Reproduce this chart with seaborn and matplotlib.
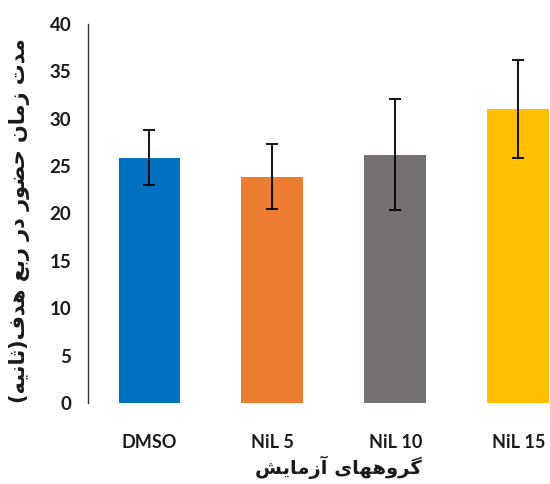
import matplotlib
matplotlib.use("Agg")
import matplotlib.pyplot as plt
import seaborn as sns
import pandas as pd

categories = ["DMSO", "NiL 5", "NiL 10", "NiL 15"]
means = [25.9, 23.9, 26.2, 31.0]
errors = [2.9, 3.4, 5.85, 5.15]
colors = ["#0070C0", "#ED7D31", "#767171", "#FFC000"]
y_ticks = [0, 5, 10, 15, 20, 25, 30, 35, 40]
y_label = "مدت زمان حضور در ربع هدف(ثانیه)"
x_label = "گروههای آزمایش"

# --- minimal Arabic/Persian shaping (isolated, final, initial, medial) ---
FORMS = {
    "ا": ("\uFE8D", "\uFE8E", None, None),
    "آ": ("\uFE81", "\uFE82", None, None),
    "ب": ("\uFE8F", "\uFE90", "\uFE91", "\uFE92"),
    "ت": ("\uFE95", "\uFE96", "\uFE97", "\uFE98"),
    "ث": ("\uFE99", "\uFE9A", "\uFE9B", "\uFE9C"),
    "ح": ("\uFEA1", "\uFEA2", "\uFEA3", "\uFEA4"),
    "د": ("\uFEA9", "\uFEAA", None, None),
    "ر": ("\uFEAD", "\uFEAE", None, None),
    "ز": ("\uFEAF", "\uFEB0", None, None),
    "ش": ("\uFEB5", "\uFEB6", "\uFEB7", "\uFEB8"),
    "ض": ("\uFEBD", "\uFEBE", "\uFEBF", "\uFEC0"),
    "ع": ("\uFEC9", "\uFECA", "\uFECB", "\uFECC"),
    "ف": ("\uFED1", "\uFED2", "\uFED3", "\uFED4"),
    "م": ("\uFEE1", "\uFEE2", "\uFEE3", "\uFEE4"),
    "ن": ("\uFEE5", "\uFEE6", "\uFEE7", "\uFEE8"),
    "ه": ("\uFEE9", "\uFEEA", "\uFEEB", "\uFEEC"),
    "و": ("\uFEED", "\uFEEE", None, None),
    "ی": ("\uFBFC", "\uFBFD", "\uFBFE", "\uFBFF"),
    "گ": ("\uFB92", "\uFB93", "\uFB94", "\uFB95"),
}


def shape_rtl(text):
    out = []
    n = len(text)
    for i, ch in enumerate(text):
        if ch not in FORMS:
            out.append(ch)
            continue
        f = FORMS[ch]
        prev = text[i - 1] if i > 0 else None
        nxt = text[i + 1] if i < n - 1 else None
        prev_join = prev in FORMS and FORMS[prev][2] is not None
        next_join = f[2] is not None and nxt in FORMS
        if prev_join and next_join:
            out.append(f[3])
        elif prev_join:
            out.append(f[1])
        elif next_join:
            out.append(f[2])
        else:
            out.append(f[0])
    s = "".join(out)[::-1]
    return s.translate(str.maketrans("()", ")("))


sns.set_theme(style="white")
plt.rcParams["font.family"] = ["Lato", "DejaVu Sans"]

df = pd.DataFrame({"group": categories, "value": means})

fig = plt.figure(figsize=(5.5, 4.84), dpi=100)
ax = fig.add_axes([0.16, 0.1674, 0.8945, 0.783])

sns.barplot(data=df, x="group", y="value", hue="group", palette=colors,
            order=categories, hue_order=categories, width=0.504,
            legend=False, ax=ax, saturation=1, edgecolor="none")
ax.errorbar(range(len(categories)), means, yerr=errors, fmt="none",
            ecolor="black", elinewidth=1.3, capsize=4.5, capthick=1.3)

ax.set_xlim(-0.5, 3.5)
ax.set_ylim(0, 40)
ax.set_yticks(y_ticks)
ax.set_yticklabels([str(t) for t in y_ticks], fontsize=13.5, fontweight="bold",
                   color="#1a1a1a")
ax.set_xticks(range(len(categories)))
ax.set_xticklabels(categories, fontsize=13, fontweight="bold", color="#1a1a1a")

for s in ["top", "right", "bottom"]:
    ax.spines[s].set_visible(False)
ax.spines["left"].set_color("#333333")
ax.spines["left"].set_linewidth(1.0)
ax.tick_params(axis="y", direction="out", length=4, width=1.0, color="#333333", pad=8)
ax.tick_params(axis="x", length=0, pad=22)

ax.set_ylabel(shape_rtl(y_label), fontsize=15, fontweight="bold",
              family=["DejaVu Sans"], color="#1a1a1a")
ax.yaxis.set_label_coords(-58 / 492, 0.48)
ax.set_xlabel(shape_rtl(x_label), fontsize=14, fontweight="bold",
              family=["DejaVu Sans"], color="#1a1a1a")
ax.xaxis.set_label_coords((338 - 88) / 492, -0.14)

fig.savefig("out.png", dpi=100)
